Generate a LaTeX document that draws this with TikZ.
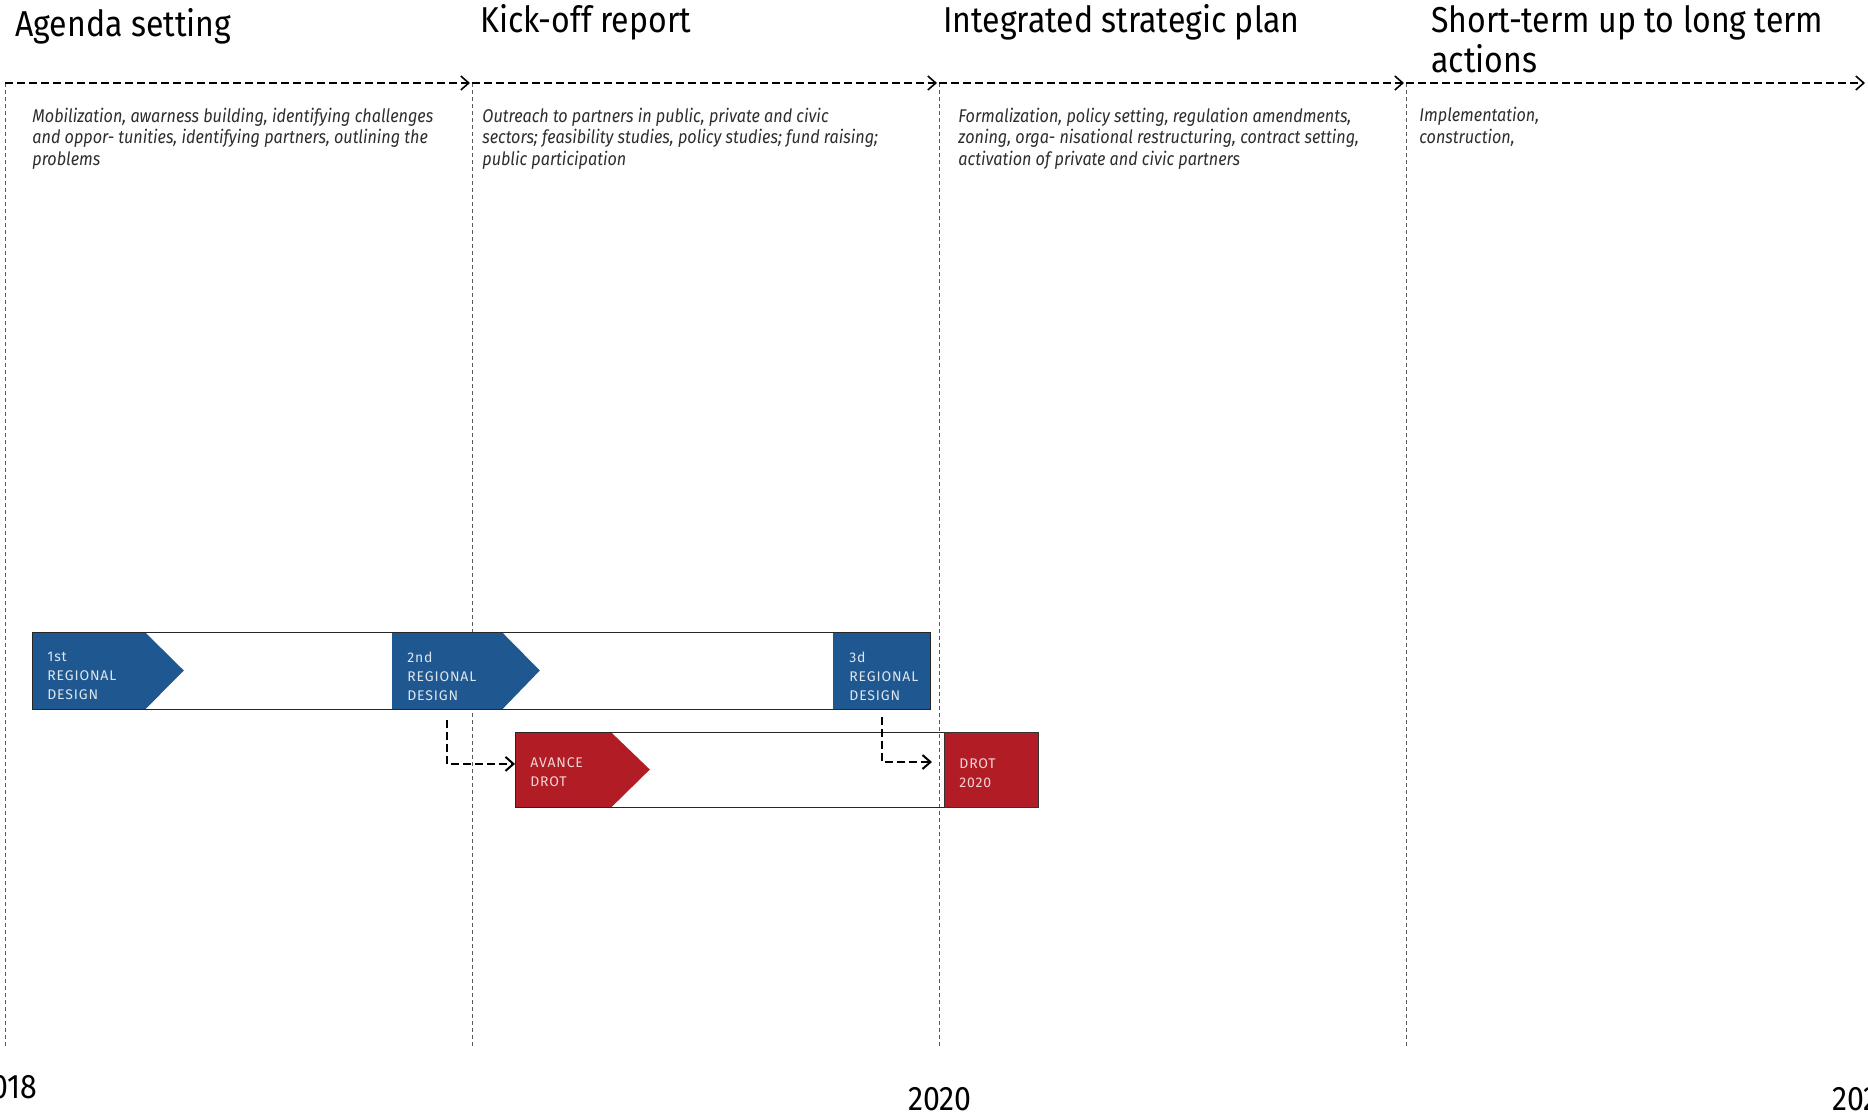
\documentclass[tikz,border=0pt]{standalone}
\usepackage{fontspec}
\setmainfont{Fira Sans}[FakeStretch=0.89]
\newfontfamily\descfont{Fira Sans}[FakeStretch=0.88]
\newfontfamily\boxfont{Fira Sans}[LetterSpace=6.0]
\usetikzlibrary{positioning,arrows.meta}
\definecolor{rdblue}{RGB}{31,87,144}
\definecolor{drotred}{RGB}{178,28,36}
\definecolor{desctext}{RGB}{45,45,45}

\begin{document}
\begin{tikzpicture}[
  x=0.5pt, y=-0.5pt,
  >={Straight Barb[length=4pt,width=7pt]},
  phase/.style={anchor=base west, align=left, inner sep=0pt, font=\fontsize{18}{20}\selectfont},
  desc/.style={anchor=base west, align=left, inner sep=0pt, text=desctext, font=\descfont\fontsize{9.2}{10.7}\selectfont\itshape},
  year/.style={inner sep=0pt, font=\fontsize{17}{20}\selectfont},
  timeline/.style={dash pattern=on 4pt off 2pt, line width=0.8pt},
  divider/.style={dash pattern=on 2pt off 1.5pt, line width=0.5pt, draw=black!65},
  bar/.style={draw=black!85, line width=0.5pt},
  blk/.style={anchor=north west, inner sep=0pt, minimum height=38.5pt},
  blklbl/.style={anchor=north west, inner sep=0pt, align=left, text=white!85!rdblue, font=\boxfont\fontsize{7}{9.5}\selectfont},
  conn/.style={->, dash pattern=on 4pt off 2pt, line width=1pt}
]
\useasboundingbox (0,0) rectangle (1868,1115);

% phase columns
\foreach \x in {5,472,939,1406}
  \draw[divider] (\x,83) -- (\x,1048);
\coordinate (t0) at (5,83);
\coordinate (t1) at (472,83);
\coordinate (t2) at (939,83);
\coordinate (t3) at (1406,83);
\coordinate (t4) at (1867,83);
\foreach \a/\b in {t0/t1,t1/t2,t2/t3,t3/t4}
  \draw[timeline,->,shorten >=1pt] (\a) -- (\b);

% base = last line
\node[phase] (ph1) at (15,36) {Agenda setting};
\node[phase] (ph2) at (480,32) {Kick-off report};
\node[phase] (ph3) at (943,32) {Integrated strategic plan};
\node[phase] (ph4) at (1431,72) {Short-term up to long term\\actions};

\node[desc] (ds1) at (32,165) {Mobilization, awarness building, identifying challenges\\and oppor- tunities, identifying partners, outlining the\\problems};
\node[desc] (ds2) at (482,165) {Outreach to partners in public, private and civic\\sectors; feasibility studies, policy studies; fund raising;\\public participation};
\node[desc] (ds3) at (958,165) {Formalization, policy setting, regulation amendments,\\zoning, orga- nisational restructuring, contract setting,\\activation of private and civic partners};
\node[desc] (ds4) at (1419,143) {Implementation,\\construction,};

% regional design bar
\node[blk, minimum width=56pt] (rd1) at (32,632) {};
\fill[rdblue] (rd1.north west) -- (rd1.north east) -- ++(39,38.5) -- (rd1.south east) -- (rd1.south west) -- cycle;
\node[blk, minimum width=54.5pt] (rd2) at (392,632) {};
\fill[rdblue] (rd2.north west) -- (rd2.north east) -- ++(38,38.5) -- (rd2.south east) -- (rd2.south west) -- cycle;
\node[blk, minimum width=48.5pt, fill=rdblue] (rd3) at (833,632) {};
\draw[bar] (32,632) rectangle (930,709);
\node[blklbl] at (47,652) {1st\\REGIONAL\\DESIGN};
\node[blklbl] at (407,652) {2nd\\REGIONAL\\DESIGN};
\node[blklbl] at (849,652) {3d\\REGIONAL\\DESIGN};

% drot bar
\node[blk, minimum width=47.5pt, minimum height=37.5pt] (avance) at (515,732) {};
\fill[drotred] (avance.north west) -- (avance.north east) -- ++(39,37.5) -- (avance.south east) -- (avance.south west) -- cycle;
\draw[bar] (515,732) rectangle (944,807);
\node[blk, minimum width=47pt, minimum height=37.5pt, fill=drotred, draw=black!80, line width=0.5pt] (drot) at (944,732) {};
\node[blklbl, text=white!82!drotred] at (530,757) {AVANCE\\DROT};
\node[blklbl, text=white!82!drotred] at (959,758) {DROT\\2020};

\draw[conn] ([yshift=-5pt]rd2.south) |- ([yshift=3pt]avance.west);
\draw[conn] ([yshift=-3.5pt]rd3.south) |- ([xshift=-6pt,yshift=4pt]drot.west);

% years
\node[year, anchor=base east] (y1) at (38,1098) {2018};
\node[year, anchor=base] (y2) at (940,1110) {2020};
\node[year, anchor=base west] (y3) at (1832,1110) {2022};
\end{tikzpicture}
\end{document}
